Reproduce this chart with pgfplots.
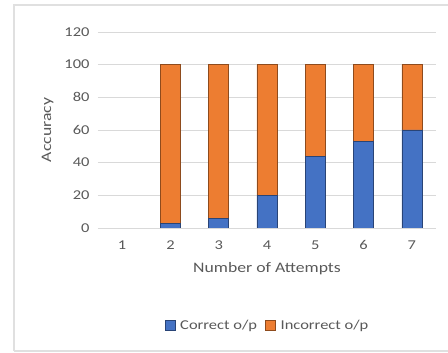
\documentclass[border=0pt]{standalone}
\usepackage{pgfplots}
\pgfplotsset{compat=1.18}
\usepackage{fontspec}
\setmainfont{Carlito}[FakeStretch=1.22]
\definecolor{cblue}{HTML}{4472C4}
\definecolor{corange}{HTML}{ED7D31}
\definecolor{txt}{HTML}{595959}
\definecolor{gridc}{HTML}{D9D9D9}
\begin{document}
\begin{tikzpicture}[x=1pt,y=1pt]
\path[use as bounding box] (0,0) rectangle (448,353);
\draw[line width=1.2pt, color=black!12] (14,2) -- (14,348) -- (450,348);
\draw[line width=1.2pt, color=black!12] (14,2) -- (450,2);
\begin{axis}[
  at={(98pt,125pt)}, anchor=south west,
  scale only axis, width=338pt, height=196pt,
  ybar stacked, bar width=20pt,
  xmin=0.5, xmax=7.5, ymin=0, ymax=120,
  xtick={1,...,7}, ytick={0,20,...,120},
  axis line style={draw=none},
  major tick length=0pt,
  xmajorgrids=false, ymajorgrids=true,
  major grid style={draw=gridc, line width=0.8pt},
  ticklabel style={font=\fontsize{13.5}{15}\selectfont, text=txt},
  /pgf/number format/assume math mode=true,
  yticklabel style={xshift=-5pt},
  xticklabel style={yshift=-9pt},
  xlabel={Number of Attempts}, ylabel={Accuracy},
  label style={font=\fontsize{14.5}{16}\selectfont, text=txt},
  xlabel style={yshift=-6pt},
  ylabel style={yshift=4pt},
  legend style={at={(0.5,-0.5)}, anchor=center, draw=none,
    font=\fontsize{13.5}{15}\selectfont, text=txt,
    legend columns=-1, /tikz/every even column/.append style={column sep=5pt}},
  legend image code/.code={\draw[#1] (0pt,-4.5pt) rectangle (10pt,5.5pt); \path (-1pt,0) (13pt,0);},
]
\addplot[fill=cblue, draw=cblue!60!black, line width=0.6pt] coordinates {(1,0) (2,3) (3,6) (4,20) (5,44) (6,53) (7,60)};
\addplot[fill=corange, draw=corange!60!black, line width=0.6pt] coordinates {(1,0) (2,97) (3,94) (4,80) (5,56) (6,47) (7,40)};
\legend{Correct o/p, Incorrect o/p}
\end{axis}
\end{tikzpicture}
\end{document}
